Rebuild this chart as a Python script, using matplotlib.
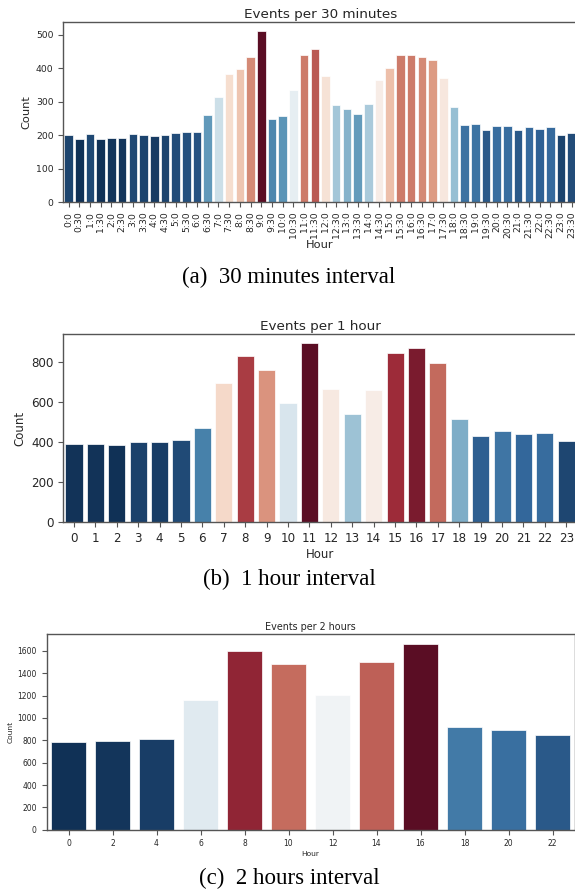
import colorsys
import numpy as np
import matplotlib
matplotlib.use("Agg")
import matplotlib.pyplot as plt
from matplotlib import colors as mcolors

# ---- data ----
labels_30 = [f"{h}:{m}" for h in range(24) for m in ("0", "30")]
counts_30 = [201, 189, 204, 189, 192, 192, 204, 201, 196, 201, 206, 208,
             210, 260, 313, 381, 398, 432, 512, 248, 258, 335, 440, 457,
             376, 291, 277, 262, 294, 364, 401, 440, 440, 432, 423, 370,
             284, 231, 233, 214, 228, 228, 214, 225, 219, 225, 201, 206]

labels_1h = [str(h) for h in range(24)]
counts_1h = [389, 389, 386, 402, 399, 411, 471, 696, 831, 761, 594, 896,
             668, 541, 661, 845, 871, 796, 518, 431, 456, 439, 444, 406]

labels_2h = [str(h) for h in range(0, 24, 2)]
counts_2h = [784, 793, 808, 1165, 1597, 1487, 1207, 1505, 1666, 918, 894, 852]

titles = ["Events per 30 minutes", "Events per 1 hour", "Events per 2 hours"]
captions = ["(a)  30 minutes interval", "(b)  1 hour interval", "(c)  2 hours interval"]


def desat(c, prop=0.75):
    r, g, b = c[:3]
    h, l, s = colorsys.rgb_to_hls(r, g, b)
    return colorsys.hls_to_rgb(h, l, s * prop)


def bar_colors(vals):
    v = np.asarray(vals, dtype=float)
    norm = mcolors.Normalize(v.min(), v.max())
    cmap = matplotlib.colormaps["RdBu_r"]
    return [desat(cmap(norm(x))) for x in v]


W, H = 575, 890
fig = plt.figure(figsize=(W / 100, H / 100), dpi=100)

TXT = "#262626"
SP = "#555555"


def make_ax(rect_px, labels, vals, title, fs_tick, fs_lab, fs_title, rot=0, xpad=2):
    l, t, r, b = rect_px
    ax = fig.add_axes([l / W, 1 - b / H, (r - l) / W, (b - t) / H])
    x = np.arange(len(vals))
    ax.bar(x, vals, width=0.8, color=bar_colors(vals), edgecolor="white", linewidth=0.5)
    ax.set_xlim(-0.5, len(vals) - 0.5)
    ax.set_ylim(0, max(vals) * 1.05)
    ax.set_xticks(x)
    ax.set_xticklabels(labels, rotation=rot, fontsize=fs_tick, color=TXT)
    ax.tick_params(axis="y", labelsize=fs_tick, labelcolor=TXT)
    ax.tick_params(axis="both", color=SP, length=3.5, width=0.8)
    for s in ax.spines.values():
        s.set_color(SP)
        s.set_linewidth(1.0)
    ax.set_xlabel("Hour", fontsize=fs_lab, color=TXT, labelpad=xpad)
    ax.set_ylabel("Count", fontsize=fs_lab, color=TXT, labelpad=3)
    ax.set_title(title, fontsize=fs_title, color=TXT, pad=3)
    return ax


make_ax((63.3, 22, 577, 202), labels_30, counts_30, titles[0], 6.7, 8.2, 9.7, rot=90, xpad=1)
make_ax((63.3, 334.3, 577, 522), labels_1h, counts_1h, titles[1], 8.6, 8.5, 9.7)
make_ax((46.5, 634.3, 574.5, 829.7), labels_2h, counts_2h, titles[2], 5.5, 5.4, 6.9)

cap_y = [277, 579, 878]
for cy, cap in zip(cap_y, captions):
    fig.text(289 / W, 1 - cy / H, cap, ha="center", va="center",
             fontsize=16.5, family="Liberation Serif", color="black")

fig.savefig("out.png", dpi=100)
